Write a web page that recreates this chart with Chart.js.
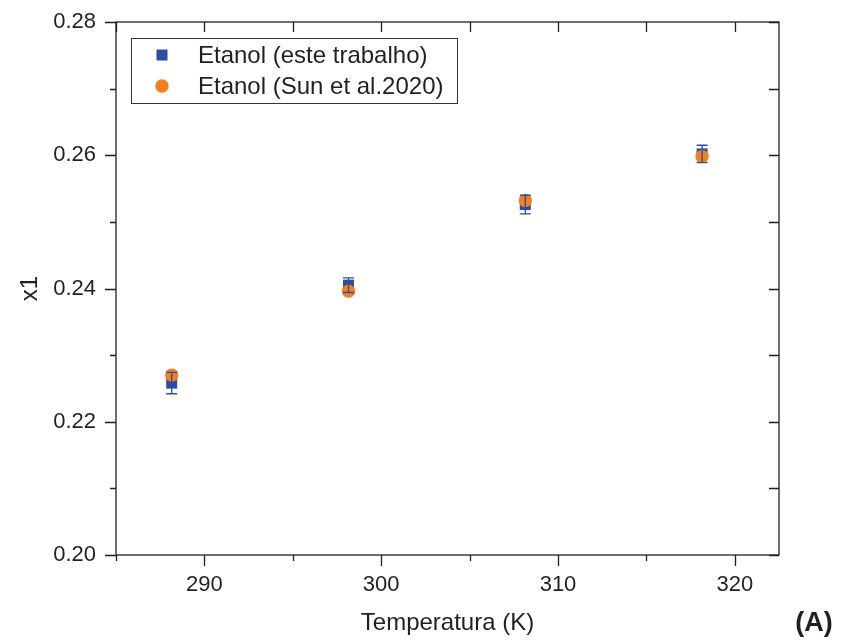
<!DOCTYPE html>
<html>
<head>
<meta charset="utf-8">
<script src="https://cdn.jsdelivr.net/npm/chart.js@4.4.1/dist/chart.umd.min.js"></script>
<style>
html,body{margin:0;padding:0;background:#fff;}
#wrap{width:841px;height:644px;position:relative;}
</style>
</head>
<body>
<div id="wrap"><canvas id="c" width="841" height="644"></canvas></div>
<script>
// ---- data ----
const temperatures = [288.15, 298.15, 308.15, 318.15];
const x1Este = [0.2258, 0.2405, 0.2526, 0.2602];
const x1EsteErr = [0.0016, 0.0011, 0.0014, 0.0013];
const x1Sun = [0.2270, 0.2396, 0.2532, 0.2598];
const seriesLabels = ['Etanol (este trabalho)', 'Etanol (Sun et al.2020)'];
const xTickLabels = [290, 300, 310, 320];
const yTickLabels = ['0.20', '0.22', '0.24', '0.26', '0.28'];
const xTitle = 'Temperatura (K)';
const yTitle = 'x1';
const panelLabel = '(A)';

const BLUE = '#2B4EA2';
const ORANGE = '#F47F22';
const INK = '#231F20';
const FONT = '"Liberation Sans", Arial, sans-serif';

const estePts = temperatures.map((t, i) => ({x: t, y: x1Este[i]}));
const sunPts = temperatures.map((t, i) => ({x: t, y: x1Sun[i]}));

const framePlugin = {
  id: 'frame',
  afterDatasetsDraw(chart) {
    const ctx = chart.ctx, xs = chart.scales.x, ys = chart.scales.y;
    // error bars of "este trabalho"
    ctx.save();
    ctx.strokeStyle = BLUE;
    ctx.lineWidth = 1.3;
    temperatures.forEach((t, i) => {
      const px = xs.getPixelForValue(t);
      const pt = ys.getPixelForValue(x1Este[i] + x1EsteErr[i]);
      const pb = ys.getPixelForValue(x1Este[i] - x1EsteErr[i]);
      ctx.beginPath();
      ctx.moveTo(px, pt); ctx.lineTo(px, pb);
      ctx.moveTo(px - 5.5, pt); ctx.lineTo(px + 5.5, pt);
      ctx.moveTo(px - 5.5, pb); ctx.lineTo(px + 5.5, pb);
      ctx.stroke();
    });
    ctx.restore();
  },
  afterDraw(chart) {
    const ctx = chart.ctx, xs = chart.scales.x, ys = chart.scales.y;
    const {left, right, top, bottom} = chart.chartArea;
    ctx.save();
    ctx.strokeStyle = INK;
    ctx.lineWidth = 1.3;
    ctx.strokeRect(left, top, right - left, bottom - top);
    ctx.beginPath();
    xs.ticks.forEach(tk => {
      const v = tk.value;
      if (Math.abs(v / 5 - Math.round(v / 5)) > 1e-6) return;
      const px = Math.round(xs.getPixelForValue(v)) + 0.5;
      const major = Math.round(v) % 10 === 0;
      ctx.moveTo(px, bottom); ctx.lineTo(px, bottom + (major ? 11 : 6));
      ctx.moveTo(px, top); ctx.lineTo(px, top + 10);
    });
    ys.ticks.forEach(tk => {
      const v = Math.round(tk.value * 1000) / 10; // in hundredths
      if (Math.abs(v - Math.round(v)) > 1e-6) return;
      const py = Math.round(ys.getPixelForValue(tk.value)) + 0.5;
      const major = Math.round(v) % 2 === 0;
      ctx.moveTo(left, py); ctx.lineTo(left - (major ? 11 : 6), py);
      ctx.moveTo(right, py); ctx.lineTo(right - 10, py);
    });
    ctx.stroke();

    // legend box
    ctx.lineWidth = 1;
    ctx.strokeStyle = '#333';
    ctx.strokeRect(131.5, 38.5, 326, 65);
    ctx.font = '24px ' + FONT;
    ctx.fillStyle = INK;
    ctx.textBaseline = 'middle';
    ctx.textAlign = 'left';
    // entry 1 : square
    ctx.fillStyle = BLUE;
    ctx.fillRect(162 - 5.5, 55 - 5.5, 11, 11);
    ctx.fillStyle = INK;
    ctx.fillText(seriesLabels[0], 198, 56);
    // entry 2 : circle
    ctx.fillStyle = ORANGE;
    ctx.beginPath(); ctx.arc(162, 86, 6.7, 0, Math.PI * 2); ctx.fill();
    ctx.fillStyle = INK;
    ctx.fillText(seriesLabels[1], 198, 87);

    // panel label
    ctx.font = 'bold 27px ' + FONT;
    ctx.textAlign = 'center';
    ctx.fillText(panelLabel, 814, 624);
    ctx.restore();
  }
};

new Chart(document.getElementById('c'), {
  type: 'scatter',
  data: {
    datasets: [
      {label: seriesLabels[0], data: estePts, pointStyle: 'rect', pointRadius: 7.8,
       backgroundColor: BLUE, borderColor: BLUE, borderWidth: 0, order: 2},
      {label: seriesLabels[1], data: sunPts, pointStyle: 'circle', pointRadius: 6.7,
       backgroundColor: ORANGE, borderColor: ORANGE, borderWidth: 0, order: 1}
    ]
  },
  options: {
    responsive: false,
    animation: false,
    events: [],
    layout: {padding: {left: 0, top: 22, right: 62, bottom: 0}},
    plugins: {legend: {display: false}, tooltip: {enabled: false}},
    scales: {
      x: {
        type: 'linear', min: 285, max: 322.5,
        afterFit: s => { s.height = 89; s.paddingLeft = 0; s.paddingRight = 0; },
        grid: {display: true, drawOnChartArea: false, drawTicks: false, color: 'rgba(0,0,0,0)'},
        border: {display: false},
        ticks: {
          stepSize: 5, includeBounds: false, padding: 17, color: INK, font: {family: FONT, size: 22},
          maxRotation: 0, autoSkip: false,
          callback: v => xTickLabels.includes(Math.round(v * 1000) / 1000) ? String(v) : ''
        },
        title: {display: true, text: xTitle, color: INK, font: {family: FONT, size: 24},
                padding: {top: 4, bottom: 6}}
      },
      y: {
        type: 'linear', min: 0.20, max: 0.28,
        afterFit: s => { s.width = 116; s.paddingTop = 0; s.paddingBottom = 0; },
        grid: {display: true, drawOnChartArea: false, drawTicks: false, color: 'rgba(0,0,0,0)'},
        border: {display: false},
        ticks: {
          stepSize: 0.01, padding: 20, color: INK, font: {family: FONT, size: 22},
          autoSkip: false,
          callback: v => {
            const s = (Math.round(v * 100) / 100).toFixed(2);
            return yTickLabels.includes(s) ? s : '';
          }
        },
        title: {display: true, text: yTitle, color: INK, font: {family: FONT, size: 24},
                padding: {top: 16, bottom: 0}}
      }
    }
  },
  plugins: [framePlugin]
});
</script>
</body>
</html>
